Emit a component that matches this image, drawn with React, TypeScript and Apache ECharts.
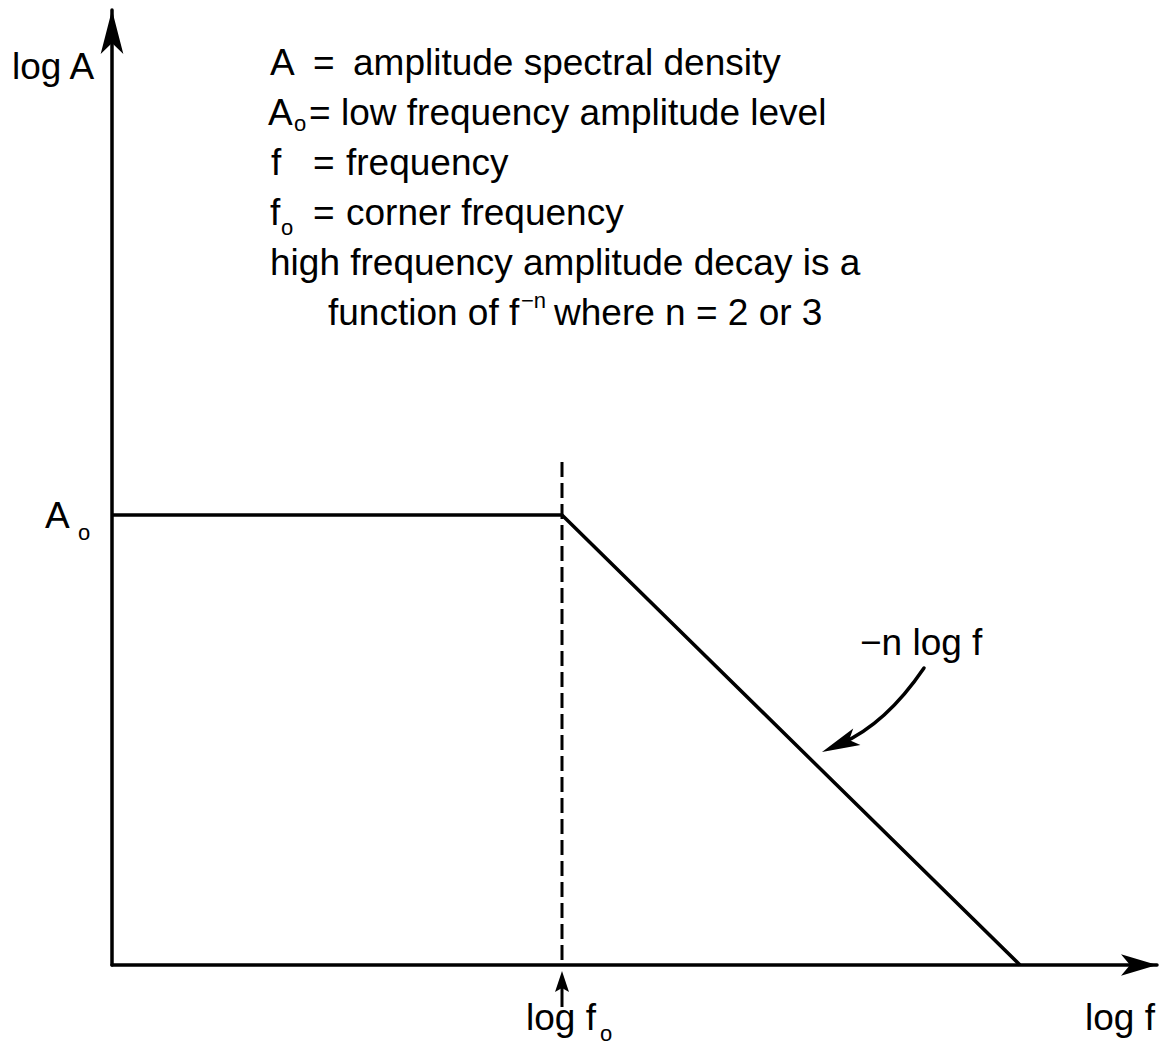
import React, { useEffect, useRef } from "react";
import * as echarts from "echarts";

// axis extents (log f, log A in arbitrary units)
const xExtent = [0, 10.45];
const yExtent = [0, 9.55];

// source spectrum: flat plateau at A0 up to corner frequency, then -n log f decay
const spectrumLogF = [0, 4.5, 9.08];
const spectrumLogA = [4.5, 4.5, 0];

// corner frequency marker (dashed)
const cornerLogF = [4.5, 4.5];
const cornerLogA = [5.03, 0];

const FONT = '"Liberation Sans", Arial, Helvetica, sans-serif';
const BIG = 37;
const SMALL = 22;

type T = { text: string; x: number; y: number; size?: number };

// legend / definitions block
const legendTexts: T[] = [
  { text: "A", x: 270, y: 62 },
  { text: "=", x: 313, y: 62 },
  { text: "amplitude spectral density", x: 353, y: 62 },
  { text: "A", x: 268, y: 112 },
  { text: "o", x: 294, y: 123, size: SMALL },
  { text: "=", x: 309, y: 112 },
  { text: "low frequency amplitude level", x: 341, y: 112 },
  { text: "f", x: 271, y: 162 },
  { text: "=", x: 313, y: 162 },
  { text: "frequency", x: 346, y: 162 },
  { text: "f", x: 270, y: 212 },
  { text: "o", x: 281, y: 227, size: SMALL },
  { text: "=", x: 313, y: 212 },
  { text: "corner frequency", x: 346, y: 212 },
  { text: "high frequency amplitude decay is a", x: 270, y: 262 },
  { text: "function of f", x: 328, y: 312 },
  { text: "\u2212n", x: 521, y: 300, size: SMALL },
  { text: "where n = 2 or 3", x: 554, y: 312 },
];

function txt(t: T) {
  return {
    type: "text",
    x: t.x,
    y: t.y,
    silent: true,
    style: {
      text: t.text,
      fontSize: t.size ?? BIG,
      fontFamily: FONT,
      fill: "#000",
      align: "left",
      verticalAlign: "middle",
    },
  };
}

export default function App() {
  const ref = useRef<HTMLDivElement>(null);
  useEffect(() => {
    document.body.style.margin = "0";
    const chart = echarts.init(ref.current!, null, { renderer: "svg" });
    const axisCommon = {
      type: "value",
      axisTick: { show: false },
      axisLabel: { show: false },
      splitLine: { show: false },
    };
    chart.setOption({
      animation: false,
      backgroundColor: "#fff",
      grid: { left: 112, right: 2, top: 10, bottom: 83 },
      xAxis: {
        ...axisCommon,
        min: xExtent[0],
        max: xExtent[1],
        axisLine: {
          show: true,
          onZero: false,
          symbol: ["none", "arrow"],
          symbolSize: [16, 36],
          lineStyle: { color: "#000", width: 3.5 },
        },
      },
      yAxis: {
        ...axisCommon,
        min: yExtent[0],
        max: yExtent[1],
        axisLine: {
          show: true,
          onZero: false,
          symbol: ["none", "arrow"],
          symbolSize: [17, 44],
          lineStyle: { color: "#000", width: 3.5 },
        },
      },
      series: [
        {
          type: "line",
          name: "corner",
          data: cornerLogF.map((x, i) => [x, cornerLogA[i]]),
          symbol: "none",
          lineStyle: { color: "#000", width: 3, type: [15, 6] },
          z: 1,
        },
        {
          type: "line",
          name: "spectrum",
          data: spectrumLogF.map((x, i) => [x, spectrumLogA[i]]),
          symbol: "none",
          lineStyle: { color: "#000", width: 3.5, join: "miter" },
          z: 2,
        },
      ],
    });

    const corner = chart.convertToPixel({ gridIndex: 0 }, [spectrumLogF[1], spectrumLogA[1]]) as number[];
    const origin = chart.convertToPixel({ gridIndex: 0 }, [0, 0]) as number[];
    const a0 = chart.convertToPixel({ gridIndex: 0 }, [0, spectrumLogA[0]]) as number[];

    // arrow under corner frequency
    const cx = corner[0];
    const ay = origin[1];
    const fArrow = [
      { type: "line", shape: { x1: cx, y1: ay + 42, x2: cx, y2: ay + 20 }, style: { stroke: "#000", lineWidth: 3 } },
      {
        type: "polygon",
        shape: { points: [[cx, ay + 6], [cx + 7, ay + 27], [cx, ay + 23], [cx - 7, ay + 27]] },
        style: { fill: "#000" },
      },
    ];

    // pointer to the slope
    const tip = [822, 752];
    const start = [924, 668];
    const ctrl = [886, 724];
    const dx = tip[0] - ctrl[0];
    const dy = tip[1] - ctrl[1];
    const len = Math.hypot(dx, dy);
    const ux = dx / len;
    const uy = dy / len;
    const px = -uy;
    const py = ux;
    const L = 38;
    const W = 9;
    const back = [tip[0] - L * ux, tip[1] - L * uy];
    const notch = [tip[0] - L * 0.78 * ux, tip[1] - L * 0.78 * uy];
    const curveEnd = [tip[0] - 20 * ux, tip[1] - 20 * uy];
    const slopeArrow = [
      {
        type: "bezierCurve",
        shape: { x1: start[0], y1: start[1], x2: curveEnd[0], y2: curveEnd[1], cpx1: ctrl[0], cpy1: ctrl[1] },
        style: { stroke: "#000", lineWidth: 3.5, fill: "none", lineCap: "round" },
      },
      {
        type: "polygon",
        shape: {
          points: [
            tip,
            [back[0] + W * px, back[1] + W * py],
            notch,
            [back[0] - W * px, back[1] - W * py],
          ],
        },
        style: { fill: "#000" },
      },
    ];

    const labels: T[] = [
      { text: "log A", x: 12, y: 66 },
      { text: "A", x: 45, y: a0[1] },
      { text: "o", x: 78, y: a0[1] + 17, size: SMALL },
      { text: "log f", x: cx - 36, y: ay + 52 },
      { text: "o", x: cx + 38, y: ay + 68, size: SMALL },
      { text: "log f", x: 1085, y: ay + 52 },
      { text: "\u2212n log f", x: 860, y: 642 },
    ];

    chart.setOption({
      graphic: [
        ...legendTexts.map(txt),
        ...labels.map(txt),
        ...fArrow,
        ...slopeArrow,
      ],
    });
    return () => chart.dispose();
  }, []);
  return <div ref={ref} style={{ width: 1159, height: 1048 }} />;
}
